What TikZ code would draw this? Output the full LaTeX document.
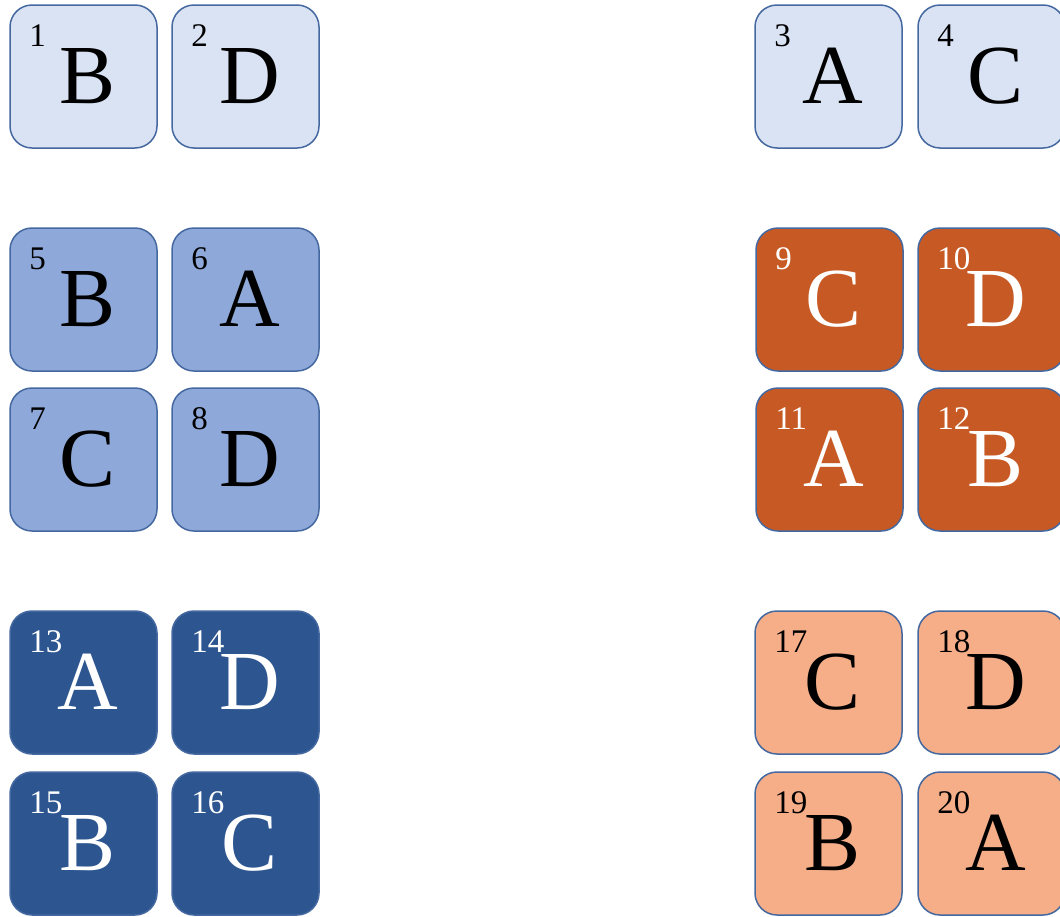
\documentclass[tikz,border=0pt]{standalone}
\usepackage{fontspec}
\setmainfont{Liberation Serif}
\usetikzlibrary{positioning}

\definecolor{tilepale}{HTML}{DAE3F3}
\definecolor{tilemid}{HTML}{8EA9D9}
\definecolor{tiledark}{HTML}{2D5691}
\definecolor{tilerust}{HTML}{C75A24}
\definecolor{tilepeach}{HTML}{F5AE88}
\definecolor{tileedge}{HTML}{44689F}

\begin{document}
\begin{tikzpicture}[x=1pt,y=-1pt,
  tile/.style={draw=tileedge, line width=1.5pt, rounded corners=22pt,
    minimum width=147pt, minimum height=143pt, inner sep=0pt},
  letter/.style={anchor=base, inner sep=0pt, font=\fontsize{84}{84}\selectfont},
  num/.style={anchor=north west, inner sep=0pt, font=\fontsize{33}{33}\selectfont}]
  \useasboundingbox (0,0) rectangle (1060,916);

  % number / x / y / letter / fill / ink
  \foreach \n/\x/\y/\l/\s/\t in {
    1/83.5/76.5/B/tilepale/black, 2/245.5/76.5/D/tilepale/black,
    3/828.5/76.5/A/tilepale/black, 4/991.5/76.5/C/tilepale/black,
    5/83.5/299.5/B/tilemid/black, 6/245.5/299.5/A/tilemid/black,
    7/83.5/459.5/C/tilemid/black, 8/245.5/459.5/D/tilemid/black,
    9/829.5/299.5/C/tilerust/white, 10/991.5/299.5/D/tilerust/white,
    11/829.5/459.5/A/tilerust/white, 12/991.5/459.5/B/tilerust/white,
    13/83.5/682.5/A/tiledark/white, 14/245.5/682.5/D/tiledark/white,
    15/83.5/843.5/B/tiledark/white, 16/245.5/843.5/C/tiledark/white,
    17/828.5/682.5/C/tilepeach/black, 18/991.5/682.5/D/tilepeach/black,
    19/828.5/843.5/B/tilepeach/black, 20/991.5/843.5/A/tilepeach/black}
  {
    \node[tile, fill=\s] (t\n) at (\x,\y) {};
    \node[letter, text=\t] (l\n) at ([xshift=4.5pt,yshift=-26.5pt]t\n.center) {\l};
    \node[num, text=\t] (n\n) at ([xshift=20pt,yshift=-20pt]t\n.north west) {\n};
  }
\end{tikzpicture}
\end{document}
